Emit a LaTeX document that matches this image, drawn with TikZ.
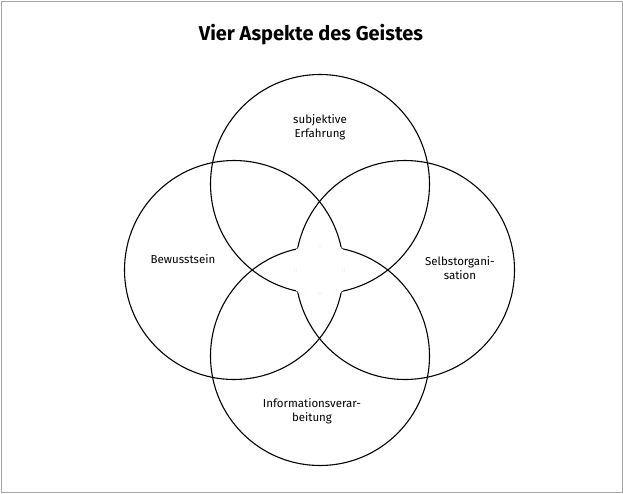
\documentclass[tikz,border=0pt]{standalone}
\usepackage{fontspec}
\setmainfont{Fira Sans}
\begin{document}
\begin{tikzpicture}[x=1pt,y=-1pt,
  circ/.style={draw=black,line width=1.1pt,circle,minimum size=219pt,inner sep=0pt},
  lab/.style={align=center,font=\fontsize{11.5}{13.5}\selectfont}]
\def\R{109.5}
\useasboundingbox (0,0) rectangle (623,493);
\draw[gray!70,line width=0.8pt] (1,1) rectangle (622,492);
\node[font=\fontsize{20}{24}\selectfont\bfseries] (title) at (311,35) {Vier Aspekte des Geistes};
\node[circ] (top) at (320,184) {};
\node[circ] (left) at (234,270) {};
\node[circ] (right) at (405,270) {};
\node[circ] (bottom) at (320,356) {};
% erase the arcs inside the central star
\begin{scope}
 \clip (left.center) circle (\R); \clip (right.center) circle (\R); \clip (bottom.center) circle (\R);
 \draw[white,line width=2.4pt] (top.center) circle (\R);
\end{scope}
\begin{scope}
 \clip (top.center) circle (\R); \clip (right.center) circle (\R); \clip (bottom.center) circle (\R);
 \draw[white,line width=2.4pt] (left.center) circle (\R);
\end{scope}
\begin{scope}
 \clip (top.center) circle (\R); \clip (left.center) circle (\R); \clip (bottom.center) circle (\R);
 \draw[white,line width=2.4pt] (right.center) circle (\R);
\end{scope}
\begin{scope}
 \clip (top.center) circle (\R); \clip (left.center) circle (\R); \clip (right.center) circle (\R);
 \draw[white,line width=2.4pt] (bottom.center) circle (\R);
\end{scope}
\node[lab] (t1) at (320,127) {subjektive\\Erfahrung};
\node[lab] (t2) at (183,259) {Bewusstsein};
\node[lab] (t3) at (460,268) {Selbstorgani-\\sation};
\node[lab] (t4) at (312,411) {Informationsverar-\\beitung};
\end{tikzpicture}
\end{document}
